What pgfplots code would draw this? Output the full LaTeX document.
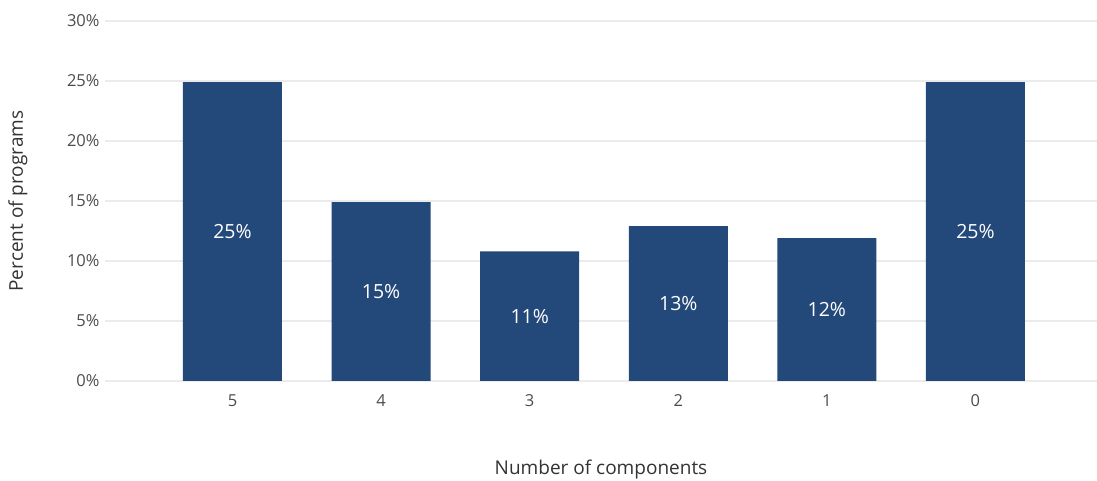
\documentclass[border=0pt]{standalone}
\usepackage{pgfplots}
\pgfplotsset{compat=1.18}
\usepackage{fontspec}
\setmainfont{Open Sans}
\definecolor{barblue}{HTML}{23487A}
\definecolor{gridgray}{HTML}{EBEBEB}
\definecolor{ticktext}{HTML}{4D4D4D}
\definecolor{labeltext}{HTML}{333333}
\begin{document}
\begin{tikzpicture}[x=1pt,y=1pt]
\useasboundingbox (0,0) rectangle (1097,481);
\begin{axis}[
  at={(105pt,100pt)}, anchor=south west,
  scale only axis,
  width=992pt, height=360pt,
  xmin=-0.858, xmax=5.818,
  ymin=0, ymax=30,
  axis line style={draw=none},
  tick style={draw=none},
  ytick={0,5,10,15,20,25,30},
  yticklabel={\pgfmathprintnumber{\tick}\%},
  /pgf/number format/assume math mode=true,
  xtick={0,1,2,3,4,5},
  xticklabels={5,4,3,2,1,0},
  ymajorgrids,
  grid style={gridgray, line width=1.2pt},
  ticklabel style={font=\fontsize{16.5}{19}\selectfont, text=ticktext},
  yticklabel style={xshift=-2pt},
  xticklabel style={yshift=-10pt},
  ylabel={Percent of programs},
  xlabel={Number of components},
  label style={font=\fontsize{19}{22}\selectfont, text=labeltext},
  ylabel style={at={(axis description cs:-0.0877,0.5)}, anchor=center, rotate=0},
  xlabel style={at={(axis description cs:0.5,0)}, anchor=center, yshift=-89pt},
]
\addplot[ybar, bar width=99pt, fill=barblue, draw=none] coordinates {
  (0,24.9) (1,14.9) (2,10.8) (3,12.9) (4,11.9) (5,24.9)
};
\addplot[draw=none, mark=none, nodes near coords, point meta=explicit symbolic,
  nodes near coords align=center,
  every node near coord/.append style={anchor=center, text=white, font=\fontsize{19.5}{22}\selectfont}]
  coordinates {
  (0,12.45)[25\%] (1,7.45)[15\%] (2,5.4)[11\%] (3,6.45)[13\%] (4,5.95)[12\%] (5,12.45)[25\%]
};
\end{axis}
\end{tikzpicture}
\end{document}
